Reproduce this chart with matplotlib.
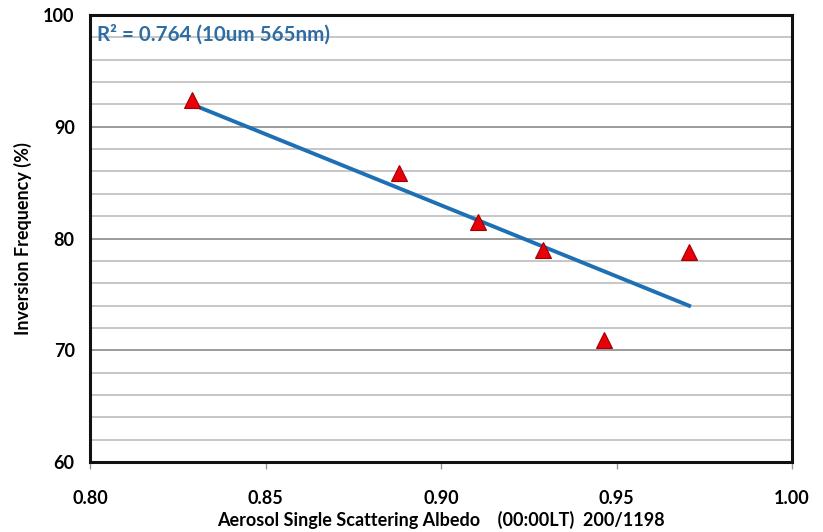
import numpy as np
import matplotlib
matplotlib.use("Agg")
import matplotlib.pyplot as plt
from matplotlib.ticker import MultipleLocator

plt.rcParams['font.family'] = ['Lato', 'DejaVu Sans']

albedo = [0.829, 0.888, 0.9105, 0.929, 0.9464, 0.9707]
inv_freq = [92.4, 85.9, 81.5, 79.0, 70.9, 78.8]
annotation = "R² = 0.764 (10um 565nm)"
xlabel = "Aerosol Single Scattering Albedo    (00:00LT)  200/1198"
ylabel = "Inversion Frequency (%)"

fig = plt.figure(figsize=(8.23, 5.32), dpi=100)
ax = fig.add_axes([90/823, 1-462/532, (792-90)/823, (462-15)/532])

ax.set_xlim(0.80, 1.00)
ax.set_ylim(60, 100)
ax.xaxis.set_major_locator(MultipleLocator(0.05))
ax.yaxis.set_major_locator(MultipleLocator(10))
ax.yaxis.set_minor_locator(MultipleLocator(2))
ax.grid(True, which='major', axis='y', color='#808080', lw=1.1)
ax.grid(True, which='minor', axis='y', color='#b8b8b8', lw=1.1)
ax.set_axisbelow(True)

x = np.array(albedo)
y = np.array(inv_freq)
m, b = np.polyfit(x, y, 1)
xs = np.array([x.min(), x.max()])
ax.plot(xs, m*xs + b, color='#1f6fb4', lw=2.8, zorder=3)
ax.plot(x, y, linestyle='none', marker='^', markersize=11, markerfacecolor='#e8000b',
        markeredgecolor='#a00000', markeredgewidth=0.8, zorder=4)

ax.text(0.01, 0.98, annotation, transform=ax.transAxes, ha='left', va='top',
        color='#2e6da4', fontsize=14.8, fontweight='bold')

for s in ax.spines.values():
    s.set_linewidth(2.2)
    s.set_color('#111111')

ax.tick_params(axis='x', direction='out', length=5, width=1, color='#999999', pad=15,
               labelsize=13)
ax.tick_params(axis='y', length=0, pad=11, labelsize=13)
ax.tick_params(which='minor', length=0)
ax.set_xticks([0.80, 0.85, 0.90, 0.95, 1.00])
ax.set_xticklabels(['0.80', '0.85', '0.90', '0.95', '1.00'], fontweight='bold')
ax.set_yticks([60, 70, 80, 90, 100])
ax.set_yticklabels(['60', '70', '80', '90', '100'], fontweight='bold')

ax.set_xlabel(xlabel, fontsize=13, fontweight='bold', labelpad=3)
ax.set_ylabel(ylabel, fontsize=13, fontweight='bold', labelpad=8)

fig.savefig('out.png', dpi=100)
